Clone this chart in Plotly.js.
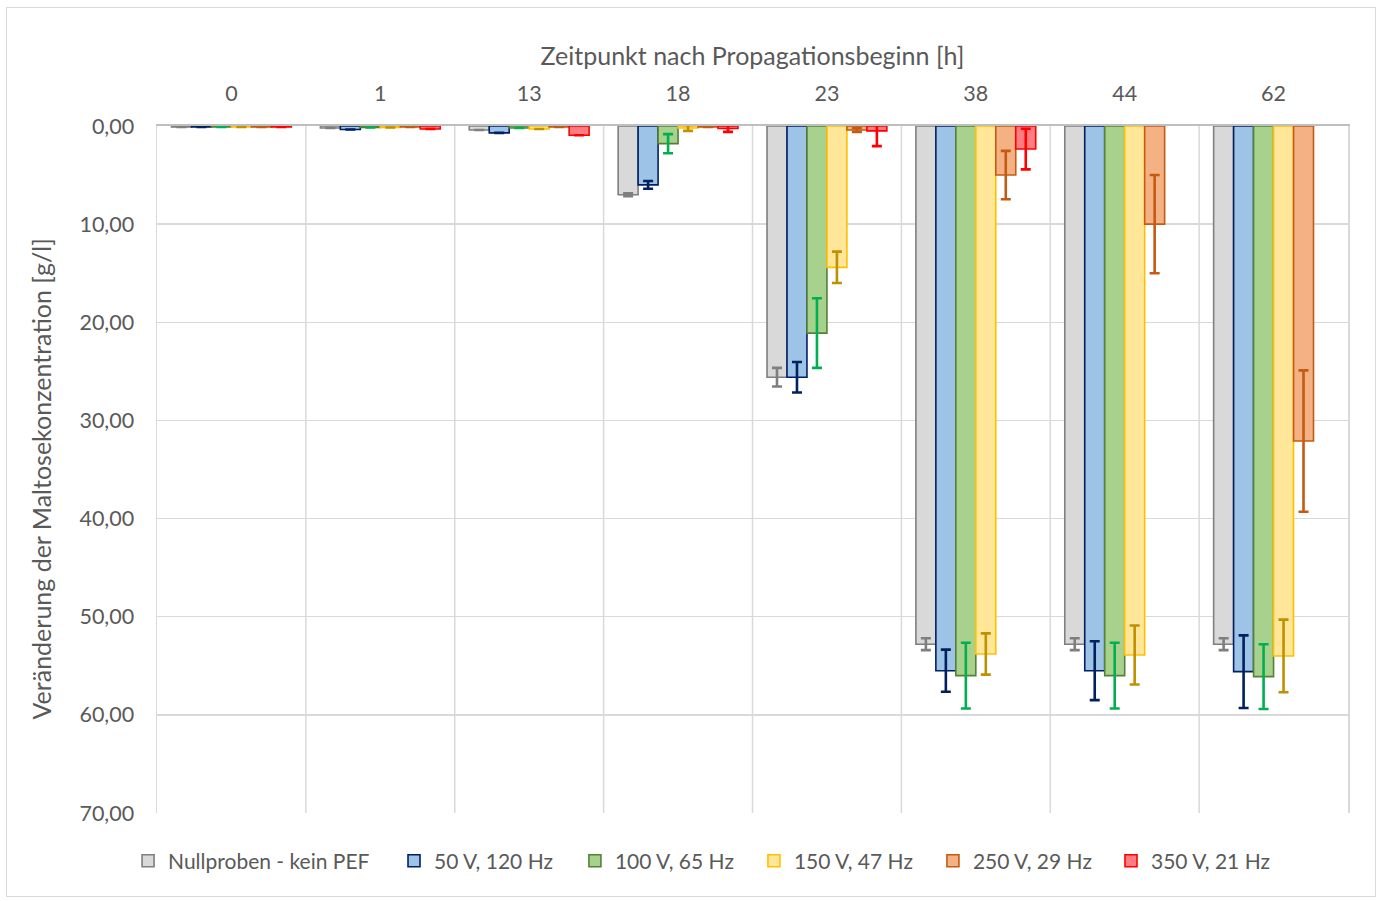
<!DOCTYPE html>
<html>
<head>
<meta charset="utf-8">
<script src="https://cdn.plot.ly/plotly-3.0.1.min.js"></script>
<style>
  html, body { margin: 0; padding: 0; background: #fff; }
  #frame { position: absolute; left: 6px; top: 7px; width: 1370px; height: 890px; border: 1.5px solid #d9d9d9; box-sizing: border-box; pointer-events: none; z-index: 5; }
  #chart { position: absolute; left: 0; top: 0; width: 1384px; height: 901px; }
</style>
</head>
<body>
<div id="frame"></div>
<div id="chart"></div>
<script>
// Categories: time after start of propagation [h]
const categories = ['0', '1', '13', '18', '23', '38', '44', '62'];

// Series names
const seriesNames = ['Nullproben - kein PEF', '50 V, 120 Hz', '100 V, 65 Hz', '150 V, 47 Hz', '250 V, 29 Hz', '350 V, 21 Hz'];

// Values (change in maltose concentration, g/l)
const nullproben   = [0.10, 0.20, 0.40, 7.00, 25.6, 52.8, 52.8, 52.8];
const v50_120      = [0.10, 0.35, 0.70, 6.00, 25.6, 55.5, 55.5, 55.6];
const v100_65      = [0.10, 0.15, 0.20, 1.80, 21.1, 56.0, 56.0, 56.1];
const v150_47      = [0.10, 0.15, 0.30, 0.20, 14.4, 53.8, 53.9, 54.0];
const v250_29      = [0.10, 0.10, 0.10, 0.10, 0.40, 5.00, 10.0, 32.1];
const v350_21      = [0.10, 0.30, 0.95, 0.25, 0.50, 2.35, null, null];

// Error bars (standard deviation, g/l)
const errNull   = [0, 0, 0, 0.15, 0.95, 0.60, 0.60, 0.60];
const err50     = [0, 0, 0, 0.40, 1.55, 2.15, 3.00, 3.70];
const err100    = [0, 0, 0, 0.97, 3.55, 3.35, 3.35, 3.30];
const err150    = [0, 0, 0, 0.30, 1.60, 2.10, 3.00, 3.70];
const err250    = [0, 0, 0, 0.00, 0.20, 2.47, 5.00, 7.20];
const err350    = [0, 0, 0, 0.35, 1.55, 2.07, 0, 0];

const xTitle = 'Zeitpunkt nach Propagationsbeginn [h]';
const yTitle = 'Veränderung der Maltosekonzentration [g/l]';

const values = [nullproben, v50_120, v100_65, v150_47, v250_29, v350_21];
const errors = [errNull, err50, err100, err150, err250, err350];

const fills   = ['#d9d9d9', '#9dc3e6', '#a9d18e', '#ffe699', '#f4b183', '#ff7c80'];
const borders = ['#7f7f7f', '#002060', '#548235', '#ffc000', '#c55a11', '#ff0000'];
const errCols = ['#7f7f7f', '#002060', '#00b050', '#bf9000', '#c55a11', '#ff0000'];

const legendIds = ['legend', 'legend2', 'legend3', 'legend4', 'legend5', 'legend6'];
const legendX = [-0.0243, 0.1990, 0.3509, 0.5012, 0.6515, 0.8010];

const traces = values.map((v, i) => ({
  type: 'bar',
  name: seriesNames[i],
  x: categories,
  y: v,
  marker: { color: fills[i], line: { color: borders[i], width: 1.6 } },
  error_y: { type: 'data', array: errors[i], visible: true, color: errCols[i], thickness: 2.6, width: 5 },
  legend: legendIds[i],
  hoverinfo: 'x+y+name'
}));

const fam = 'Lato, "Open Sans", sans-serif';

const shapes = [];
for (let k = 0; k < categories.length - 1; k++) {
  shapes.push({ type: 'line', xref: 'x', yref: 'paper', x0: k + 0.5, x1: k + 0.5, y0: 0, y1: 1,
    line: { color: '#d9d9d9', width: 1.5 }, layer: 'below' });
}

const layout = {
  width: 1384, height: 901,
  paper_bgcolor: '#ffffff', plot_bgcolor: '#ffffff',
  margin: { l: 157, r: 36, t: 126, b: 88, pad: 0, autoexpand: false },
  font: { family: fam, color: '#595959', size: 21 },
  separators: ',.',
  barmode: 'group',
  bargap: 0.195,
  bargroupgap: 0,
  showlegend: true,
  xaxis: {
    type: 'category',
    side: 'top',
    range: [-0.5, 7.5],
    showgrid: false,
    zeroline: false,
    showline: true, linecolor: '#bfbfbf', linewidth: 2,
    ticks: 'outside', ticklen: 0,
    ticklabelstandoff: 14,
    tickfont: { family: fam, size: 21.5, color: '#595959' },
    title: { text: xTitle, standoff: 8,
      font: { family: fam, size: 25, color: '#595959' } },
    automargin: false
  },
  yaxis: {
    range: [70, 0],
    dtick: 10,
    tick0: 0,
    tickformat: '.2f',
    showgrid: true, gridcolor: '#d9d9d9', gridwidth: 1.5,
    zeroline: false,
    showline: true, mirror: true, linecolor: '#d9d9d9', linewidth: 1.5,
    ticks: 'outside', ticklen: 0,
    ticklabelstandoff: 17,
    tickfont: { family: fam, size: 21.5, color: '#595959' },
    automargin: false
  },
  annotations: [{
    text: yTitle, xref: 'paper', yref: 'paper', x: -0.0966, y: 0.4869,
    xanchor: 'center', yanchor: 'middle', textangle: -90, showarrow: false,
    font: { family: fam, size: 25, color: '#595959' }
  }],
  shapes: shapes
};

legendIds.forEach((id, i) => {
  layout[id] = {
    orientation: 'h', x: legendX[i], xanchor: 'left', y: -0.07, yanchor: 'middle',
    font: { family: fam, size: 21, color: '#595959' },
    bgcolor: 'rgba(0,0,0,0)', itemwidth: 30, itemclick: false
  };
});

Plotly.newPlot('chart', traces, layout, { displayModeBar: false, staticPlot: true });
</script>
</body>
</html>
